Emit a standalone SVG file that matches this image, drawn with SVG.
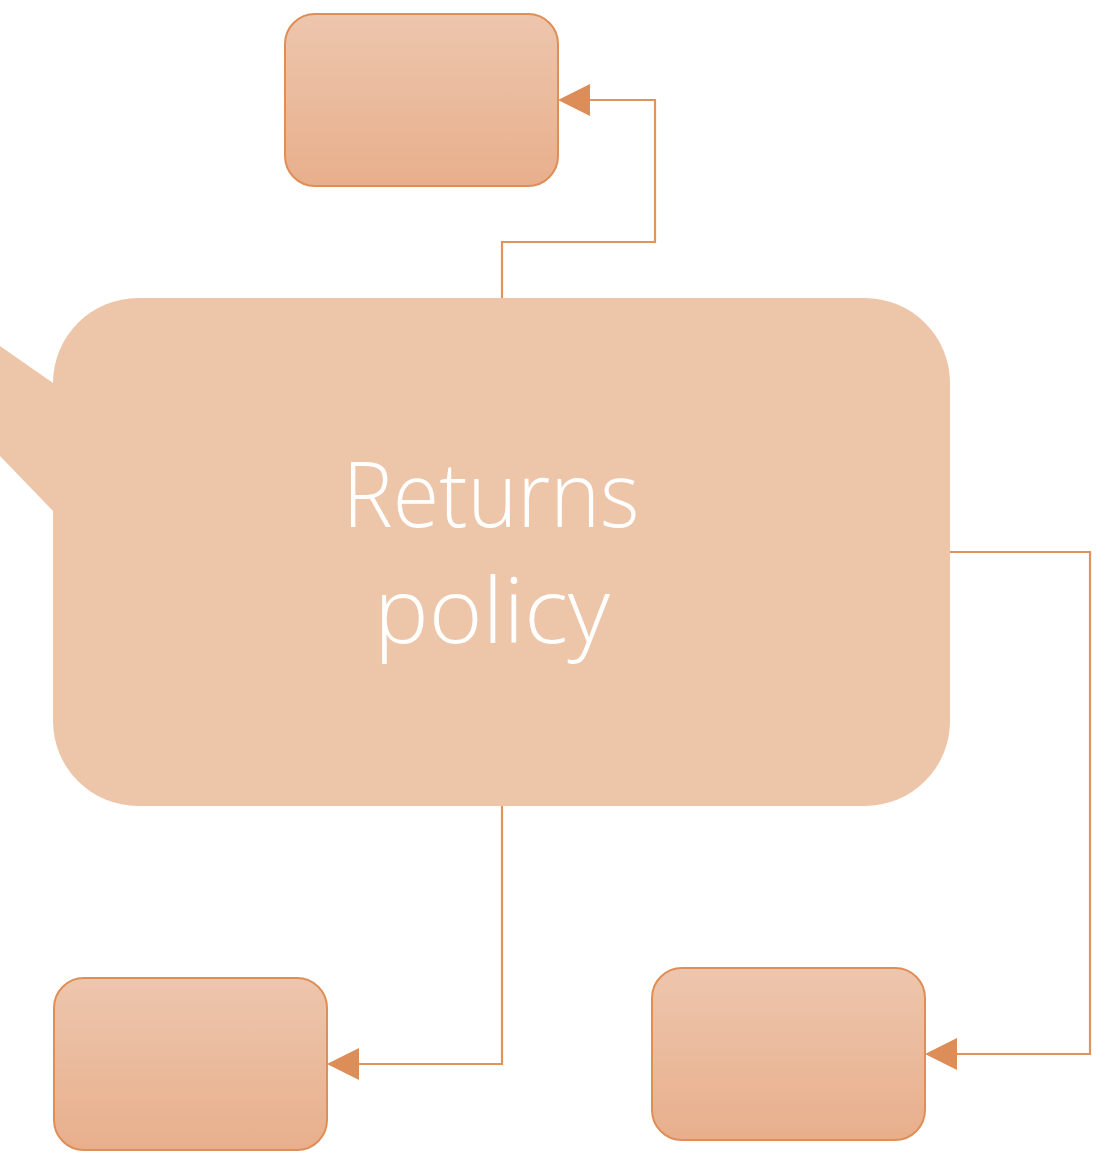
<svg xmlns="http://www.w3.org/2000/svg" width="1103" height="1153" viewBox="0 0 1103 1153">
<style>
.box{fill:url(#g);stroke:#DE8E56;stroke-width:2}
.conn{fill:none;stroke:#E0935C;stroke-width:2.2}
.lbl{fill:#FFFFFF;font-family:"Open Sans","Noto Sans",sans-serif;font-weight:300;font-size:90px;text-anchor:middle}
</style>
<defs>
<linearGradient id="g" x1="0" y1="0" x2="0" y2="1">
<stop offset="0" stop-color="#EDC6AD"/>
<stop offset="1" stop-color="#E8AF8C"/>
</linearGradient>
</defs>
<g id="connectors">
<path class="conn" d="M502,298 V242 H655 V100 H590"/>
<path d="M590,84 L558,100 L590,116 Z" fill="#DD8D57"/>
<path class="conn" d="M502,806 V1064 H359"/>
<path d="M359,1048 L327,1064 L359,1080 Z" fill="#DD8D57"/>
<path class="conn" d="M950,552 H1090 V1054 H957"/>
<path d="M957,1038 L925,1054 L957,1070 Z" fill="#DD8D57"/>
</g>
<g id="main">
<path d="M0,346 L53,383 V511 L0,456 Z" fill="#EDC6AA"/>
<rect x="53" y="298" width="897" height="508" rx="85" ry="85" fill="#EDC6AA"/>
<text class="lbl" x="491" y="527" textLength="297" lengthAdjust="spacingAndGlyphs">Returns</text>
<text class="lbl" x="492" y="643" textLength="236" lengthAdjust="spacingAndGlyphs">policy</text>
</g>
<g id="top">
<rect class="box" x="285" y="14" width="273" height="172" rx="30" ry="30"/>
</g>
<g id="bottom-left">
<rect class="box" x="54" y="978" width="273" height="172" rx="30" ry="30"/>
</g>
<g id="bottom-right">
<rect class="box" x="652" y="968" width="273" height="172" rx="30" ry="30"/>
</g>
</svg>
